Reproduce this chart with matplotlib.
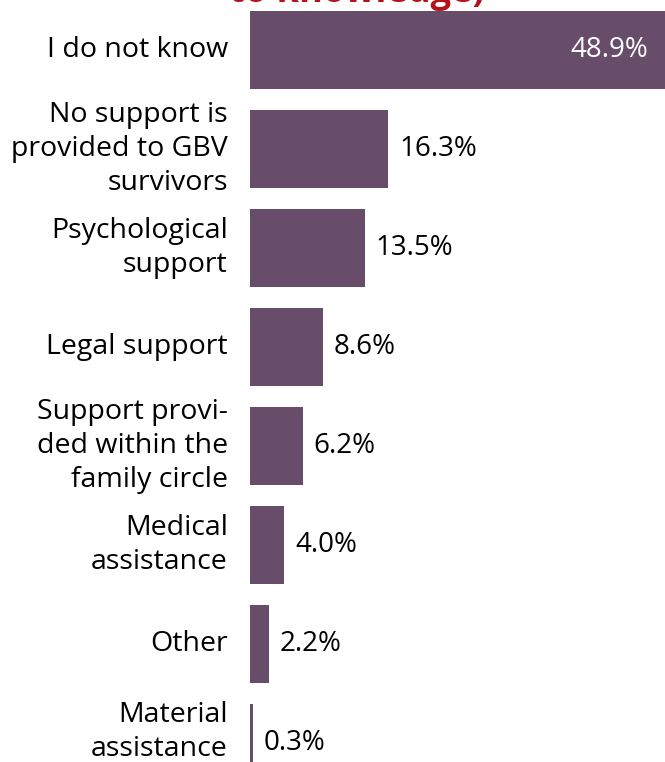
import matplotlib.pyplot as plt

plt.rcParams['font.family'] = ['Open Sans', 'DejaVu Sans']

# data
categories = ["I do not know",
              "No support is\nprovided to GBV\nsurvivors",
              "Psychological\nsupport",
              "Legal support",
              "Support provi-\nded within the\nfamily circle",
              "Medical\nassistance",
              "Other",
              "Material\nassistance"]
values = [48.9, 16.3, 13.5, 8.6, 6.2, 4.0, 2.2, 0.3]
title = "to knowledge)"

bar_color = "#684d6a"
title_color = "#b5121b"

fig = plt.figure(figsize=(6.65, 7.62), dpi=100)
ax = fig.add_axes([250 / 665, 0, 415 / 665, 1])

ypos = list(range(len(values)))
ax.barh(ypos, values, height=0.79, color=bar_color)

ax.set_xlim(0, max(values))
# first bar centred 50px from the top, 99px between bars
ax.set_ylim((762 - 50) / 99, -50 / 99)

ax.set_xticks([])
ax.set_yticks([])
for s in ax.spines.values():
    s.set_visible(False)

# category labels, right aligned left of the bars
for i, c in enumerate(categories):
    dy = 0
    if i == len(categories) - 1:
        dy = 8  # last label pushed up so it stays inside the picture
    ax.annotate(c, xy=(0, i), xytext=(-16, dy), textcoords='offset points',
                ha='right', va='center', fontsize=20.5, linespacing=1.3,
                annotation_clip=False)

for i, v in enumerate(values):
    lab = "{:.1f}%".format(v)
    if v == max(values):
        ax.annotate(lab, xy=(v, i), xytext=(-12, 0), textcoords='offset points',
                    ha='right', va='center', color='white', fontsize=20)
    else:
        ax.annotate(lab, xy=(v, i), xytext=(8, 0), textcoords='offset points',
                    ha='left', va='center', color='black', fontsize=20)

# title is cut off at the top edge of the picture
fig.text(357 / 665, 1 - 2 / 762, title, ha='center', va='baseline',
         fontsize=26, fontweight='bold', color=title_color)

fig.savefig("out.png", dpi=100)
